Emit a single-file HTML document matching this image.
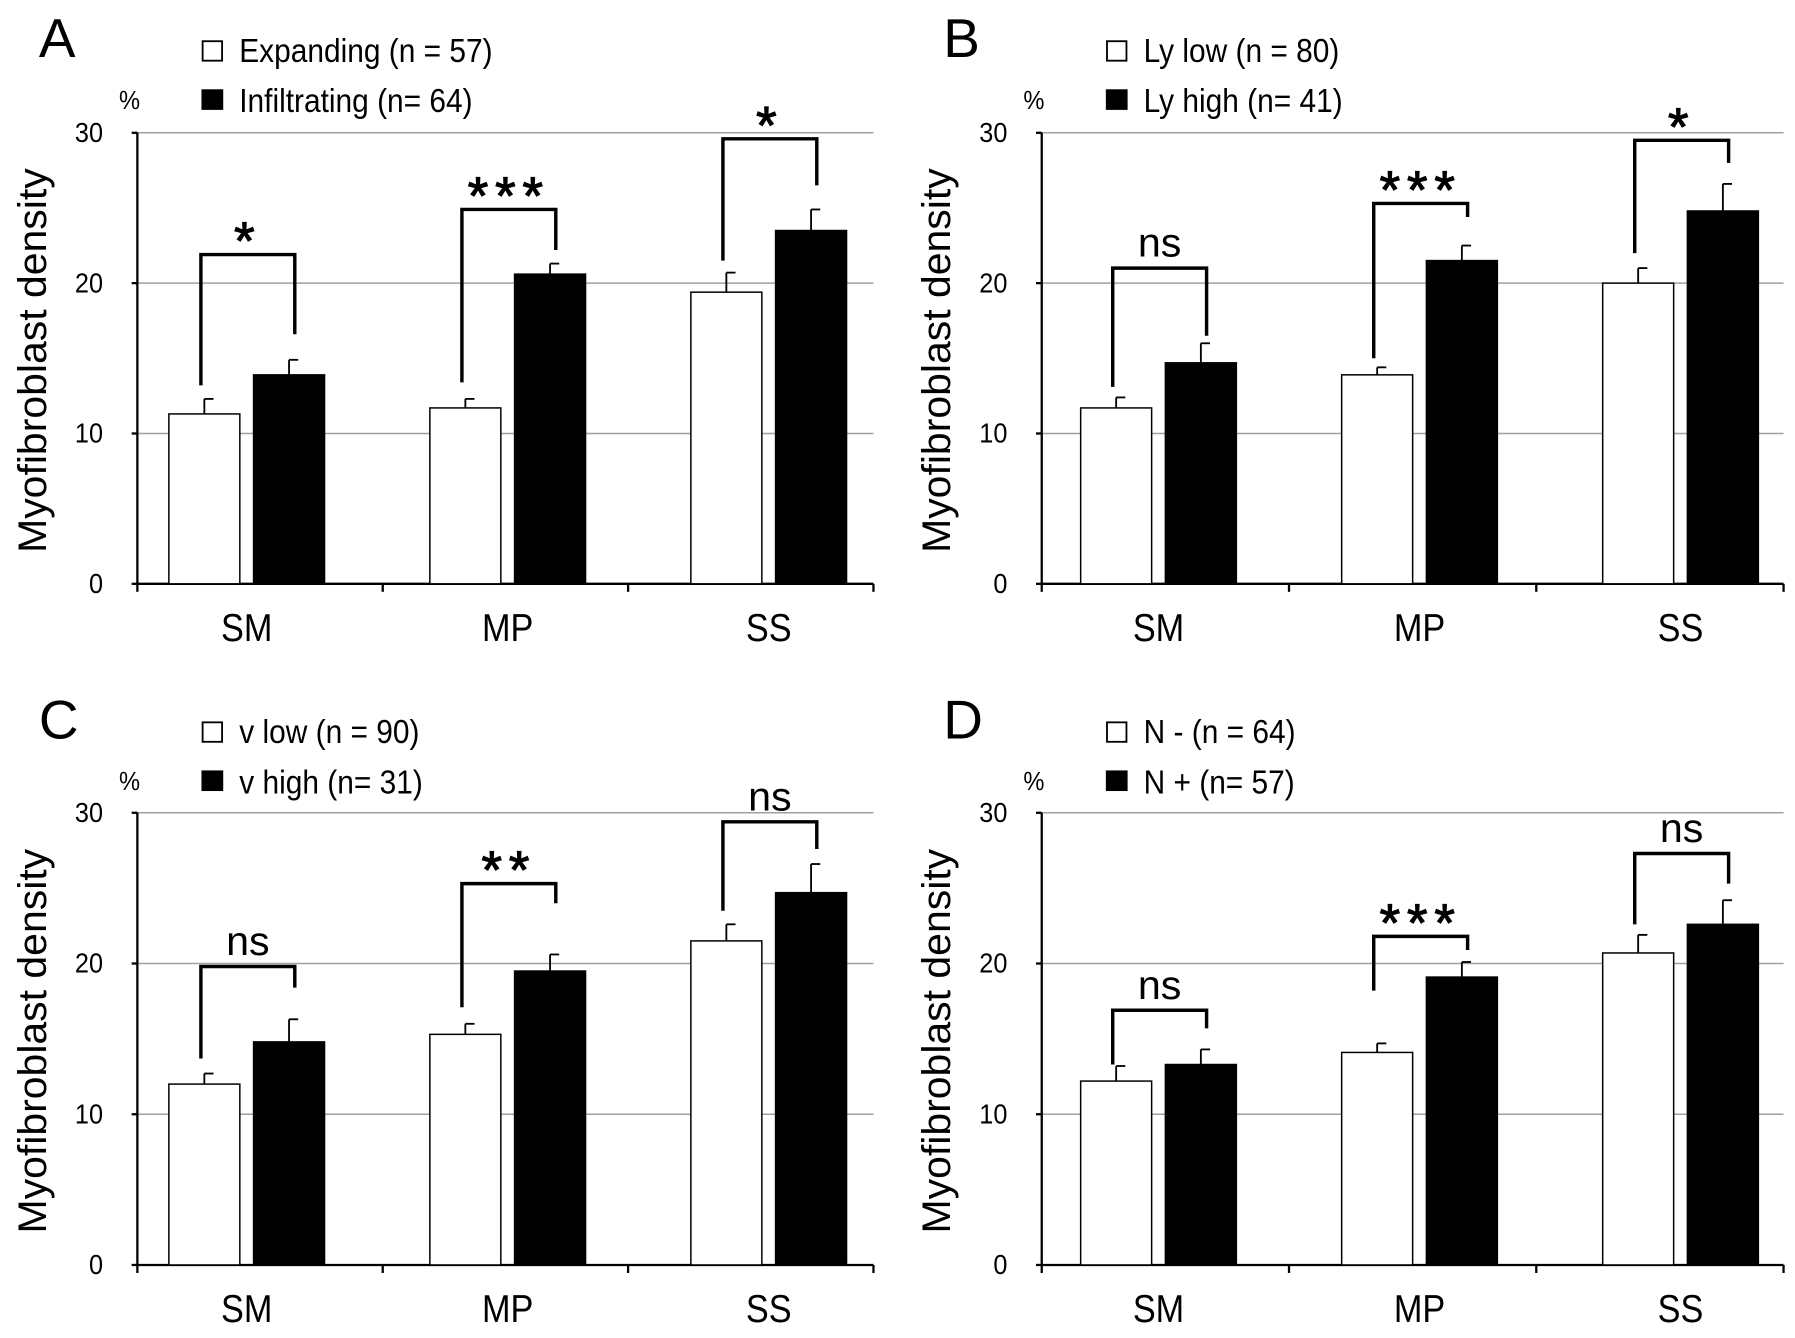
<!DOCTYPE html>
<html><head><meta charset="utf-8"><style>
html,body{margin:0;padding:0;background:#fff;width:1795px;height:1338px;overflow:hidden}
svg{display:block}
text{font-family:"Liberation Sans",sans-serif;fill:#000}
</style></head><body>
<svg id="fig" width="1795" height="1338" viewBox="0 0 1568 1168.8" preserveAspectRatio="none" xmlns="http://www.w3.org/2000/svg"></svg>
<script>
const categories = ["SM","MP","SS"];
const panelLetters = ["A","B","C","D"];
const legendWhite = ["Expanding (n = 57)","Ly low (n = 80)","v low (n = 90)","N - (n = 64)"];
const legendBlack = ["Infiltrating (n= 64)","Ly high (n= 41)","v high (n= 31)","N + (n= 57)"];
const yTicks = [0,10,20,30];
const whiteVals = [[11.3,11.7,19.4],[11.7,13.9,20.0],[12.0,15.3,21.5],[12.2,14.1,20.7]];
const whiteErr  = [[12.3,12.3,20.7],[12.4,14.4,21.0],[12.7,16.0,22.6],[13.2,14.7,21.9]];
const blackVals = [[13.9,20.6,23.5],[14.7,21.5,24.8],[14.8,19.5,24.7],[13.3,19.1,22.6]];
const blackErr  = [[14.9,21.3,24.9],[16.0,22.5,26.6],[16.3,20.6,26.6],[14.3,20.1,24.2]];
const sigLabels = [["*","***","*"],["ns","***","*"],["ns","**","ns"],["ns","***","ns"]];
const bracketTop = [[21.9,24.9,29.6],[21.0,25.3,29.5],[19.8,25.3,29.4],[16.9,21.8,27.3]];
const bracketLeft = [[13.2,13.4,21.5],[13.1,15.0,22.0],[13.7,17.1,23.5],[13.3,18.2,22.6]];
const bracketRight = [[16.6,22.2,26.5],[16.5,24.4,28.0],[18.4,24.0,27.6],[15.7,20.9,25.3]];

const NS="http://www.w3.org/2000/svg";
const svg=document.getElementById('fig');
function mk(tag,attrs,parent){const e=document.createElementNS(NS,tag);for(const k in attrs)e.setAttribute(k,attrs[k]);(parent||svg).appendChild(e);return e;}
function txt(parent,x,y,size,str,anchor,sx){
  const e=mk('text',{x:0,y:0,'font-size':size,'text-anchor':anchor||'start',transform:`translate(${x},${y}) scale(${sx||1},1)`},parent);
  e.textContent=str;return e;
}
const frames=[{x0:120,x1:763,yb:510,yt:116,ox:0,oy:0,off:95.5},{x0:910,x1:1558,yb:510,yt:116,ox:790,oy:0,off:102},{x0:120,x1:763,yb:1105,yt:710,ox:0,oy:595,off:95.5},{x0:910,x1:1558,yb:1105,yt:710,ox:790,oy:595,off:102}];
frames.forEach((f,p)=>{
  const g=mk('g',{});
  
  
  const y=v=>f.yb-(v/30)*(f.yb-f.yt);
  const cw=(f.x1-f.x0)/3;
  const cx=i=>f.x0+f.off+i*228;
  let t=txt(g,f.ox+34,f.oy+50,48,panelLetters[p]);
  
  let r=mk('rect',{x:f.ox+177,y:f.oy+36,width:17,height:17,fill:'#fff',stroke:'#000','stroke-width':1.6},g);
  
  t=txt(g,f.ox+209,f.oy+54,29,legendWhite[p],'start',0.9);
  
  r=mk('rect',{x:f.ox+176,y:f.oy+78,width:19,height:18,fill:'#000'},g);
  
  t=txt(g,f.ox+209,f.oy+98,29,legendBlack[p],'start',0.9);
  
  t=txt(g,f.ox+104,f.oy+95,23,'%','start',0.9);
  
  t=mk('text',{x:0,y:0,'font-size':35,'text-anchor':'middle',textLength:336,lengthAdjust:'spacingAndGlyphs',transform:`translate(${f.ox+40},${(f.yb+f.yt)/2+2}) rotate(-90)`},g);
  t.textContent='Myofibroblast density';
  
  yTicks.forEach(v=>{
    if(v>0){const l=mk('line',{x1:f.x0,x2:f.x1,y1:y(v),y2:y(v),stroke:'#a0a0a0','stroke-width':1.3},g);
      }
    mk('line',{x1:f.x0-5,x2:f.x0,y1:y(v),y2:y(v),stroke:'#000','stroke-width':2},g);
    const tt=txt(g,f.x0-30,y(v)+8,24,String(v),'end',0.92);
    
  });
  let a=mk('line',{x1:f.x0,x2:f.x0,y1:f.yt,y2:f.yb,stroke:'#000','stroke-width':2},g);
  
  a=mk('line',{x1:f.x0,x2:f.x1,y1:f.yb,y2:f.yb,stroke:'#000','stroke-width':2},g);
  
  for(let i=0;i<=3;i++)mk('line',{x1:f.x0+i*cw,x2:f.x0+i*cw,y1:f.yb,y2:f.yb+7,stroke:'#000','stroke-width':2},g);
  categories.forEach((c,i)=>{
    const tt=txt(g,cx(i),f.yb+50,34,c,'middle',0.88);
    
    const wx=cx(i)-68, bx=cx(i)+6, bw=62;
    [[wx,whiteVals[p][i],whiteErr[p][i],'#fff','white'],[bx,blackVals[p][i],blackErr[p][i],'#000','black']].forEach(([x,v,e,fill,nm])=>{
      const eb=mk('line',{x1:x+bw/2,x2:x+bw/2,y1:y(v),y2:y(e),stroke:'#000','stroke-width':1.6},g);
      
      mk('line',{x1:x+bw/2,x2:x+bw/2+8,y1:y(e),y2:y(e),stroke:'#000','stroke-width':1.6},g);
      const b=mk('rect',{x:x,y:y(v),width:bw,height:f.yb-y(v),fill:fill,stroke:'#000','stroke-width':1.3},g);
      
    });
    const lx=wx+bw/2-3, rx=bx+bw/2+5, ty=y(bracketTop[p][i]);
    const br=mk('path',{d:`M${lx},${y(bracketLeft[p][i])} L${lx},${ty} L${rx},${ty} L${rx},${y(bracketRight[p][i])}`,fill:'none',stroke:'#000','stroke-width':3},g);
    
    const isStar=sigLabels[p][i]!=='ns';
    const st=mk('text',{x:(lx+rx)/2,y:ty-(isStar?-4:10),'font-size':isStar?46:36,'text-anchor':'middle','letter-spacing':isStar?6:0,stroke:isStar?'#000':'none','stroke-width':isStar?1:0},g);
    st.textContent=sigLabels[p][i];
    
  });
});
</script>
</body></html>
